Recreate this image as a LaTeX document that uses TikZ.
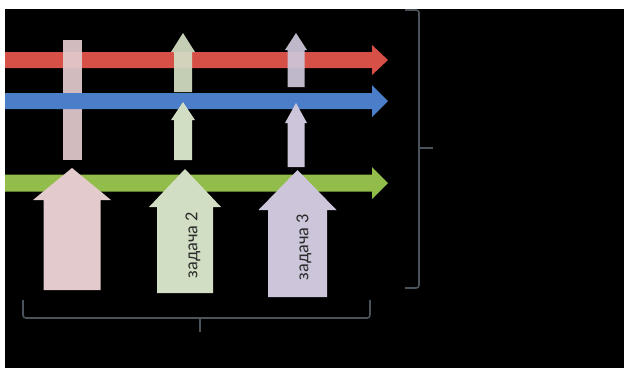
\documentclass[tikz,border=0pt]{standalone}
\usepackage{fontspec}
\setmainfont{Carlito}
\usetikzlibrary{positioning}
\definecolor{ink}{HTML}{2B2B2B}
\definecolor{bracket}{HTML}{4A525C}
\definecolor{redflow}{HTML}{D65048}
\definecolor{blueflow}{HTML}{4A7EC8}
\definecolor{greenflow}{HTML}{92BD4B}
\definecolor{pinktask}{HTML}{E3CACD}
\definecolor{greentask}{HTML}{D2DEC3}
\definecolor{violettask}{HTML}{CDC6DA}
% block arrow pointing right: colour, x start, x head, x tip, y, half shaft, half head
\newcommand{\blockright}[7]{%
  \fill[#1] (#2,#5-#6) -- (#3,#5-#6) -- (#3,#5-#7) -- (#4,#5)
    -- (#3,#5+#7) -- (#3,#5+#6) -- (#2,#5+#6) -- cycle;
}
% block arrow pointing up: colour, x, y bottom, y head, y tip, half shaft, half head
\newcommand{\blockup}[7]{%
  \fill[#1] (#2-#6,#3) -- (#2+#6,#3) -- (#2+#6,#4) -- (#2+#7,#4) -- (#2,#5)
    -- (#2-#7,#4) -- (#2-#6,#4) -- (#2-#6,#3) -- cycle;
}
\tikzset{
  tasklabel/.style={rotate=90,font=\fontsize{13}{15}\selectfont,text=ink,inner sep=0pt},
  brace/.style={draw=bracket,line width=1.1pt,rounded corners=2pt}
}
\begin{document}
\begin{tikzpicture}[x=0.025cm,y=-0.025cm]
  \fill[white] (0,0) rectangle (624,371);
  \fill[black] (5,9) rectangle (624,368);
  % flows
  \blockright{greenflow}{5}{372}{388}{183}{8.5}{16}
  \blockright{redflow}{5}{372}{388}{60}{8}{15}
  % task 1 bar and the small arrows of tasks 2 and 3
  \fill[pinktask,opacity=0.93] (63,40) rectangle (82,160);
  \blockup{greentask,opacity=0.93}{183}{92}{52}{33}{9}{12}
  \blockup{violettask,opacity=0.93}{296}{87}{50}{33}{8.5}{11}
  \blockright{blueflow}{5}{372}{388}{101}{8}{16}
  \blockup{greentask}{183}{160}{120}{102}{9}{12}
  \blockup{violettask}{296}{167}{123}{103}{8.5}{11}
  % big task arrows
  \blockup{pinktask}{72}{290}{200}{168}{28.5}{39}
  \blockup{greentask}{185}{293}{207}{169}{28}{36}
  \blockup{violettask}{297.5}{297}{210}{170}{29.5}{39}
  \node[tasklabel] (task2) at (193,245) {задача 2};
  \node[tasklabel] (task3) at (304,247) {задача 3};
  % brackets
  \draw[brace] (405,10) -- (419,10) -- (419,288) -- (405,288);
  \draw[bracket,line width=1.1pt] (419,148) -- (433,148);
  \draw[brace] (23,300) -- (23,318) -- (370,318) -- (370,300);
  \draw[bracket,line width=1.1pt] (200,318) -- (200,332);
\end{tikzpicture}
\end{document}
